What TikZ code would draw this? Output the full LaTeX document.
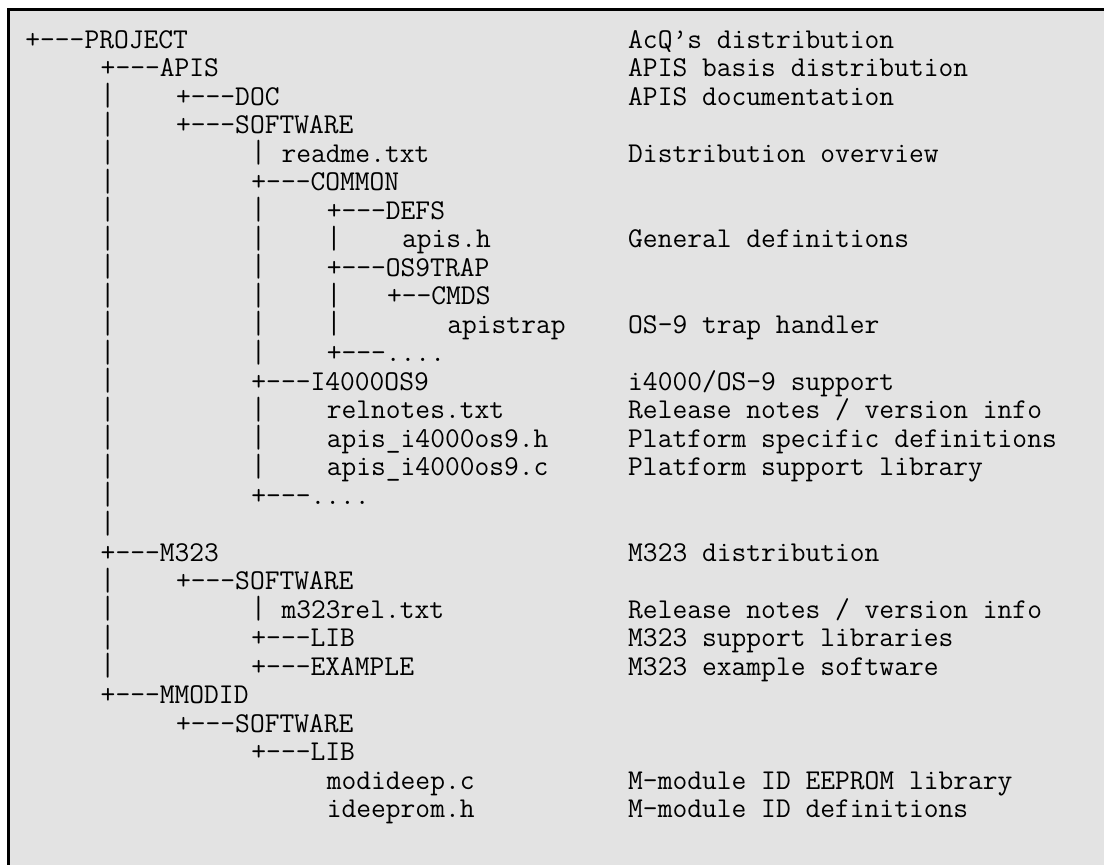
\documentclass[tikz,border=0pt]{standalone}
\usepackage{tikz}
\definecolor{boxgray}{RGB}{227,227,227}
\newcommand{\lstfont}{\fontsize{14.35pt}{14.25pt}\selectfont\ttfamily}
\tikzset{
  entry/.style={anchor=base west, inner sep=0pt, font=\lstfont},
  vbar/.style={anchor=base, inner sep=0pt, font=\lstfont, yscale=1.12}
}

\begin{document}
\begin{tikzpicture}[x=0.5pt, y=-0.5pt]
      \def\cw{15.07}
      \def\lh{28.5}
      \def\xo{25}
      \def\yo{48.3}
      \useasboundingbox (0,0) rectangle (1104,864);

      % Frame
      \fill[boxgray] (8.5,9.5) rectangle (1110,870);
      \draw[line width=1.5pt] (8.5,870) -- (8.5,9.5) -- (1110,9.5);

      % Vertical bars
      \foreach \r in {2,...,17} \node[vbar] (bara-\r) at ({\xo + 5.5*\cw}, {\yo + 0.6 + \r*\lh}) {|};
      \foreach \r in {19,...,22} \node[vbar] (bara-\r) at ({\xo + 5.5*\cw}, {\yo + 0.6 + \r*\lh}) {|};
      \foreach \r in {4,6,7,8,9,10,11,13,14,15,20} \node[vbar] (barb-\r) at ({\xo + 15.5*\cw}, {\yo + 0.6 + \r*\lh}) {|};
      \foreach \r in {7,9,10} \node[vbar] (barc-\r) at ({\xo + 20.5*\cw}, {\yo + 0.6 + \r*\lh}) {|};

      % APIS tree
      \node[entry] (project) at ({\xo + 0*\cw}, {\yo + 0*\lh}) {+–-{}-PROJECT};
      \node[entry] (apis) at ({\xo + 5*\cw}, {\yo + 1*\lh}) {+––-APIS};
      \node[entry] (doc) at ({\xo + 10*\cw}, {\yo + 2*\lh}) {+––-DOC};
      \node[entry] (apissw) at ({\xo + 10*\cw}, {\yo + 3*\lh}) {+––-SOFTWARE};
      \node[entry] (readme) at ({\xo + 17*\cw}, {\yo + 4*\lh}) {readme.txt};
      \node[entry] (common) at ({\xo + 15*\cw}, {\yo + 5*\lh}) {+––-COMMON};
      \node[entry] (defs) at ({\xo + 20*\cw}, {\yo + 6*\lh}) {+––-DEFS};
      \node[entry] (apish) at ({\xo + 25*\cw}, {\yo + 7*\lh}) {apis.h};
      \node[entry] (os9trap) at ({\xo + 20*\cw}, {\yo + 8*\lh}) {+––-OS9TRAP};
      \node[entry] (cmds) at ({\xo + 24*\cw}, {\yo + 9*\lh}) {+–-CMDS};
      \node[entry] (apistrap) at ({\xo + 28*\cw}, {\yo + 10*\lh}) {apistrap};
      \node[entry] (commonmore) at ({\xo + 20*\cw}, {\yo + 11*\lh}) {+––-....};
      \node[entry] (i4000) at ({\xo + 15*\cw}, {\yo + 12*\lh}) {+––-I4000OS9};
      \node[entry] (relnotes) at ({\xo + 20*\cw}, {\yo + 13*\lh}) {relnotes.txt};
      \node[entry] (plath) at ({\xo + 20*\cw}, {\yo + 14*\lh}) {apis\_i4000os9.h};
      \node[entry] (platc) at ({\xo + 20*\cw}, {\yo + 15*\lh}) {apis\_i4000os9.c};
      \node[entry] (swmore) at ({\xo + 15*\cw}, {\yo + 16*\lh}) {+––-....};

      % M323 and MMODID trees
      \node[entry] (m323) at ({\xo + 5*\cw}, {\yo + 18*\lh}) {+––-M323};
      \node[entry] (m323sw) at ({\xo + 10*\cw}, {\yo + 19*\lh}) {+––-SOFTWARE};
      \node[entry] (m323rel) at ({\xo + 17*\cw}, {\yo + 20*\lh}) {m323rel.txt};
      \node[entry] (m323lib) at ({\xo + 15*\cw}, {\yo + 21*\lh}) {+––-LIB};
      \node[entry] (m323ex) at ({\xo + 15*\cw}, {\yo + 22*\lh}) {+––-EXAMPLE};
      \node[entry] (mmodid) at ({\xo + 5*\cw}, {\yo + 23*\lh}) {+––-MMODID};
      \node[entry] (mmsw) at ({\xo + 10*\cw}, {\yo + 24*\lh}) {+-{}-{}-SOFTWARE};
      \node[entry] (mmlib) at ({\xo + 15*\cw}, {\yo + 25*\lh}) {+-{}-{}-LIB};
      \node[entry] (modideep) at ({\xo + 20*\cw}, {\yo + 26*\lh}) {modideep.c};
      \node[entry] (ideeprom) at ({\xo + 20*\cw}, {\yo + 27*\lh}) {ideeprom.h};

      % Descriptions
      \node[entry] (d-project) at ({\xo + 40*\cw}, {\yo + 0*\lh}) {AcQ’s distribution};
      \node[entry] (d-apis) at ({\xo + 40*\cw}, {\yo + 1*\lh}) {APIS basis distribution};
      \node[entry] (d-doc) at ({\xo + 40*\cw}, {\yo + 2*\lh}) {APIS documentation};
      \node[entry] (d-readme) at ({\xo + 40*\cw}, {\yo + 4*\lh}) {Distribution overview};
      \node[entry] (d-apish) at ({\xo + 40*\cw}, {\yo + 7*\lh}) {General definitions};
      \node[entry] (d-apistrap) at ({\xo + 40*\cw}, {\yo + 10*\lh}) {OS-9 trap handler};
      \node[entry] (d-i4000) at ({\xo + 40*\cw}, {\yo + 12*\lh}) {i4000/OS-9 support};
      \node[entry] (d-relnotes) at ({\xo + 40*\cw}, {\yo + 13*\lh}) {Release notes / version info};
      \node[entry] (d-plath) at ({\xo + 40*\cw}, {\yo + 14*\lh}) {Platform specific definitions};
      \node[entry] (d-platc) at ({\xo + 40*\cw}, {\yo + 15*\lh}) {Platform support library};
      \node[entry] (d-m323) at ({\xo + 40*\cw}, {\yo + 18*\lh}) {M323 distribution};
      \node[entry] (d-m323rel) at ({\xo + 40*\cw}, {\yo + 20*\lh}) {Release notes / version info};
      \node[entry] (d-m323lib) at ({\xo + 40*\cw}, {\yo + 21*\lh}) {M323 support libraries};
      \node[entry] (d-m323ex) at ({\xo + 40*\cw}, {\yo + 22*\lh}) {M323 example software};
      \node[entry] (d-modideep) at ({\xo + 40*\cw}, {\yo + 26*\lh}) {M-module ID EEPROM library};
      \node[entry] (d-ideeprom) at ({\xo + 40*\cw}, {\yo + 27*\lh}) {M-module ID definitions};
\end{tikzpicture}
\end{document}
